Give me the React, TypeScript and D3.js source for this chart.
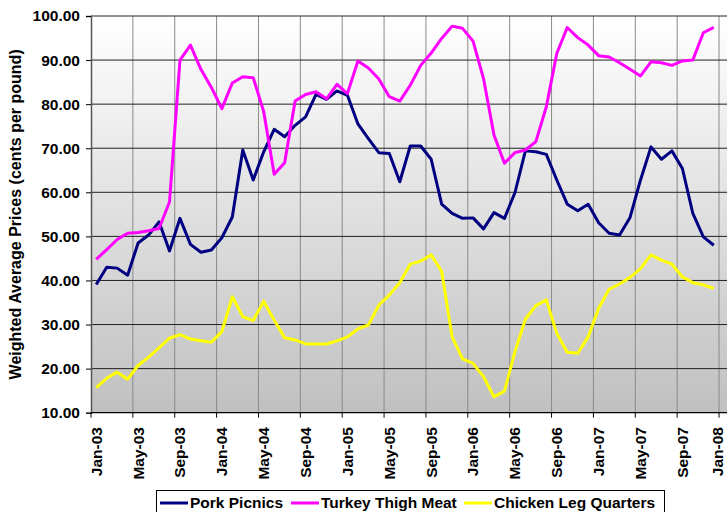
import React, { useRef, useEffect } from 'react';
import * as d3 from 'd3';

const monthNames = ['Jan', 'Feb', 'Mar', 'Apr', 'May', 'Jun', 'Jul', 'Aug', 'Sep', 'Oct', 'Nov', 'Dec'];
const years = ['03', '04', '05', '06', '07', '08'];
// Jan-03 .. Jan-08 (61 categories, last one has no data)
const months = years.flatMap(y => monthNames.map(m => `${m}-${y}`)).slice(0, 61);

const porkPicnics = [
    39.1, 43.0, 42.8, 41.2, 48.5, 50.3, 53.3, 46.7, 54.1, 48.2,
    46.4, 46.9, 49.7, 54.4, 69.6, 62.8, 69.2, 74.3, 72.6, 75.2,
    77.1, 82.2, 81.1, 83.0, 82.0, 75.5, 72.2, 69.0, 68.8, 62.4,
    70.5, 70.5, 67.5, 57.3, 55.2, 54.1, 54.2, 51.7, 55.4, 54.1,
    59.9, 69.4, 69.2, 68.6, 62.8, 57.3, 55.8, 57.3, 53.1, 50.7,
    50.3, 54.3, 62.8, 70.3, 67.5, 69.4, 65.4, 55.2, 49.9, 48.0
];
const turkeyThighMeat = [
    44.8, 47.0, 49.3, 50.7, 50.9, 51.3, 51.8, 57.8, 90.0, 93.4,
    87.9, 83.8, 79.0, 84.8, 86.2, 86.0, 78.3, 64.1, 66.7, 80.7,
    82.2, 82.8, 81.2, 84.5, 82.4, 89.8, 88.2, 85.7, 81.7, 80.7,
    84.3, 88.8, 91.6, 94.9, 97.7, 97.2, 94.3, 85.8, 73.0, 66.6,
    69.0, 69.6, 71.5, 79.4, 91.5, 97.4, 95.1, 93.4, 91.0, 90.7,
    89.4, 87.9, 86.4, 89.6, 89.4, 88.8, 89.8, 90.0, 96.2, 97.4
];
const chickenLegQuarters = [
    15.7, 17.8, 19.2, 17.6, 20.7, 22.6, 24.7, 26.9, 27.7, 26.7,
    26.3, 26.0, 28.4, 36.3, 31.8, 30.9, 35.3, 31.0, 27.0, 26.5,
    25.6, 25.6, 25.6, 26.3, 27.2, 29.0, 29.9, 34.4, 36.7, 39.5,
    43.7, 44.4, 45.8, 42.1, 27.2, 22.2, 21.2, 18.2, 13.6, 14.9,
    23.8, 31.2, 34.3, 35.6, 28.0, 23.7, 23.5, 27.2, 33.7, 38.0,
    39.2, 40.7, 42.7, 45.8, 44.6, 43.7, 40.8, 39.5, 39.0, 38.2
];

const seriesNames = ['Pork Picnics', 'Turkey Thigh Meat', 'Chicken Leg Quarters'];
const seriesValues = [porkPicnics, turkeyThighMeat, chickenLegQuarters];
const seriesColors = ['#000080', '#ff00ff', '#ffff00'];
const yTicks = [10, 20, 30, 40, 50, 60, 70, 80, 90, 100];

const App = () => {
    const svgRef = useRef(null);

    const totalWidth = 727;
    const totalHeight = 512;
    const plotLeft = 91;
    const plotTop = 16;
    const plotBottom = 412.7;
    const step = 10.467;
    const font = 'Liberation Sans, Arial, sans-serif';

    useEffect(() => {
        const svg = d3.select(svgRef.current);
        svg.selectAll('*').remove();

        const x = d3.scaleBand()
            .domain(months)
            .range([plotLeft, plotLeft + months.length * step])
            .padding(0);

        const y = d3.scaleLinear()
            .domain([10, 100])
            .range([plotBottom, plotTop]);

        const defs = svg.append('defs');
        const grad = defs.append('linearGradient')
            .attr('id', 'plot-bg')
            .attr('x1', '0%').attr('x2', '0%').attr('y1', '0%').attr('y2', '100%');
        grad.append('stop').attr('offset', '0%').attr('stop-color', '#ffffff');
        grad.append('stop').attr('offset', '100%').attr('stop-color', '#c0c0c0');

        svg.append('rect')
            .attr('width', totalWidth).attr('height', totalHeight)
            .attr('fill', '#ffffff');

        svg.append('rect')
            .attr('x', plotLeft)
            .attr('y', plotTop)
            .attr('width', totalWidth - plotLeft + 5)
            .attr('height', plotBottom - plotTop)
            .attr('fill', 'url(#plot-bg)');

        // vertical gridlines every 4 months
        const boundaryIdx = d3.range(4, months.length, 4);
        svg.append('g')
            .selectAll('line')
            .data(boundaryIdx)
            .enter()
            .append('line')
            .attr('x1', i => x(months[i]))
            .attr('x2', i => x(months[i]))
            .attr('y1', plotTop)
            .attr('y2', plotBottom)
            .attr('stroke', '#8a8a8a')
            .attr('stroke-width', 1);

        // horizontal gridlines
        svg.append('g')
            .selectAll('line')
            .data(yTicks.filter(t => t > 10))
            .enter()
            .append('line')
            .attr('x1', plotLeft)
            .attr('x2', totalWidth)
            .attr('y1', d => y(d))
            .attr('y2', d => y(d))
            .attr('stroke', '#222')
            .attr('stroke-width', 1);

        // y axis
        const yAxis = d3.axisLeft(y)
            .tickValues(yTicks)
            .tickFormat(d3.format('.2f'))
            .tickSize(5)
            .tickPadding(6);

        const yg = svg.append('g')
            .attr('transform', `translate(${plotLeft}, 0)`)
            .call(yAxis);
        yg.select('.domain').attr('stroke', '#555').attr('stroke-width', 1.5);
        yg.selectAll('.tick line').attr('stroke', '#000');
        yg.selectAll('.tick text')
            .attr('fill', '#000')
            .style('font-family', font)
            .style('font-size', '15.5px')
            .style('font-weight', 'bold');

        // x axis line + ticks
        svg.append('line')
            .attr('x1', plotLeft).attr('x2', totalWidth)
            .attr('y1', plotBottom).attr('y2', plotBottom)
            .attr('stroke', '#000').attr('stroke-width', 1.2);

        svg.append('g')
            .selectAll('line')
            .data(d3.range(0, months.length, 4))
            .enter()
            .append('line')
            .attr('x1', i => x(months[i]))
            .attr('x2', i => x(months[i]))
            .attr('y1', plotBottom)
            .attr('y2', plotBottom + 5)
            .attr('stroke', '#000');

        svg.append('g')
            .selectAll('text')
            .data(d3.range(0, months.length, 4))
            .enter()
            .append('text')
            .attr('transform', i => {
                const cx = Math.min(x(months[i]) + x.bandwidth() / 2, 718);
                return `translate(${cx}, 427) rotate(-90)`;
            })
            .attr('dy', '0.35em')
            .attr('text-anchor', 'end')
            .style('font-family', font)
            .style('font-size', '15.5px')
            .style('font-weight', 'bold')
            .attr('fill', '#000')
            .text(i => months[i]);

        // y title
        svg.append('text')
            .attr('transform', `translate(20.5, ${(plotTop + plotBottom) / 2}) rotate(-90)`)
            .attr('text-anchor', 'middle')
            .style('font-family', font)
            .style('font-size', '16px')
            .style('font-weight', 'bold')
            .attr('fill', '#000')
            .text('Weighted Average Prices (cents per pound)');

        // lines
        const line = d3.line()
            .x((d, i) => x(months[i]) + x.bandwidth() / 2)
            .y(d => y(d));

        svg.append('g')
            .selectAll('path')
            .data(seriesValues)
            .enter()
            .append('path')
            .attr('d', d => line(d))
            .attr('fill', 'none')
            .attr('stroke', (d, i) => seriesColors[i])
            .attr('stroke-width', 3)
            .attr('stroke-linejoin', 'round');

        // legend
        const legend = svg.append('g');
        legend.append('rect')
            .attr('x', 156.5).attr('y', 490.5)
            .attr('width', 508).attr('height', 30)
            .attr('fill', '#ffffff')
            .attr('stroke', '#000')
            .attr('stroke-width', 1);

        const legendX = [160, 291, 464];
        const legendItem = legend.selectAll('.legend-item')
            .data(seriesNames)
            .enter()
            .append('g')
            .attr('class', 'legend-item')
            .attr('transform', (d, i) => `translate(${legendX[i]}, 503)`);

        legendItem.append('line')
            .attr('x1', 0).attr('x2', 28)
            .attr('y1', 0).attr('y2', 0)
            .attr('stroke', (d, i) => seriesColors[i])
            .attr('stroke-width', 3);

        legendItem.append('text')
            .attr('x', 30)
            .attr('dy', '0.35em')
            .style('font-family', font)
            .style('font-size', '15.5px')
            .style('font-weight', 'bold')
            .attr('fill', '#000')
            .text(d => d);
    }, []);

    return (
        <svg
            ref={svgRef}
            width={totalWidth}
            height={totalHeight}
            style={{ position: 'absolute', left: 0, top: 0, display: 'block' }}
        ></svg>
    );
};

export default App;
